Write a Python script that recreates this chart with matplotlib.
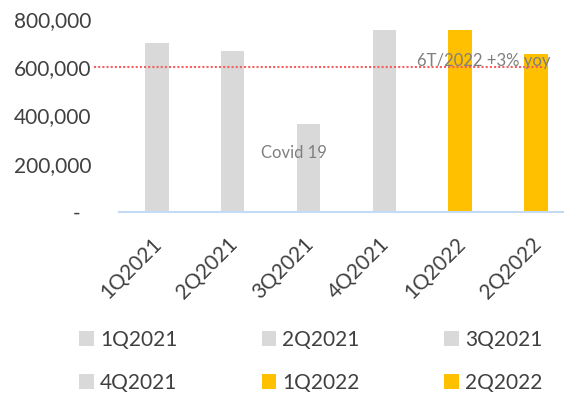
import matplotlib.pyplot as plt
import matplotlib.transforms as mtransforms
from matplotlib.patches import Patch
from matplotlib.ticker import FuncFormatter

# quarterly values
quarters = ['1Q2021', '2Q2021', '3Q2021', '4Q2021', '1Q2022', '2Q2022']
values = [700000, 667000, 365000, 755000, 755000, 655000]
colors = ['#D9D9D9', '#D9D9D9', '#D9D9D9', '#D9D9D9', '#FFC000', '#FFC000']
yticks = [0, 200000, 400000, 600000, 800000]
target = 600000
target_label = '6T/2022 +3% yoy'
covid_label = 'Covid 19'

plt.rcParams['font.family'] = ['Lato', 'DejaVu Sans']
text_col = '#404040'

fig = plt.figure(figsize=(5.64, 3.94), dpi=100)
ax = fig.add_axes([119 / 564, 182 / 394, 445 / 564, 193 / 394])

x = list(range(len(quarters)))
ax.bar(x, values, width=0.31, color=colors, zorder=2)

ax.set_xlim(-0.5, 5.37)
ax.set_ylim(0, 800000)

# dotted target line, runs a little past the left edge of the plot
ax.axhline(target, xmin=-0.056, xmax=0.955, color='#F46060', lw=1.5,
           linestyle=(0, (1, 1)), clip_on=False, zorder=3)
ax.text(4.31, target + 27000, target_label, color='#7F7F7F', fontsize=12,
        ha='center', va='center', zorder=4)
ax.text(1.81, 245000, covid_label, color='#7F7F7F', fontsize=12,
        ha='center', va='center', zorder=4)

def fmt(v, pos):
    if v == 0:
        return '-  '
    return f'{v:,.0f}'

ax.set_yticks(yticks)
ax.yaxis.set_major_formatter(FuncFormatter(fmt))
ax.tick_params(axis='y', length=0, pad=20, labelsize=15, labelcolor=text_col)

ax.set_xticks(x)
ax.set_xticklabels(quarters, rotation=45, ha='right', va='top',
                   rotation_mode='anchor')
ax.tick_params(axis='x', length=0, pad=16, labelsize=15, labelcolor=text_col)
shift = mtransforms.ScaledTranslation(-5 / 100, 0, fig.dpi_scale_trans)
for lab in ax.get_xticklabels():
    lab.set_transform(lab.get_transform() + shift)

for s in ['top', 'right', 'left']:
    ax.spines[s].set_visible(False)
ax.spines['bottom'].set_color('#C5DAF5')
ax.spines['bottom'].set_linewidth(1.5)
ax.spines['bottom'].set_zorder(3)

# legend laid out row by row like the original
order = [0, 3, 1, 4, 2, 5]
handles = [Patch(facecolor=colors[i], edgecolor='none') for i in order]
labels = [quarters[i] for i in order]
fig.legend(handles, labels, ncol=3, frameon=False, fontsize=15,
           loc='upper left', bbox_to_anchor=(79 / 564, 1 - 330 / 394),
           borderpad=0, borderaxespad=0, handlelength=0.7, handleheight=0.7,
           handletextpad=0.3, columnspacing=4.05, labelspacing=1.1,
           labelcolor=text_col)

fig.savefig('out.png', dpi=100)
